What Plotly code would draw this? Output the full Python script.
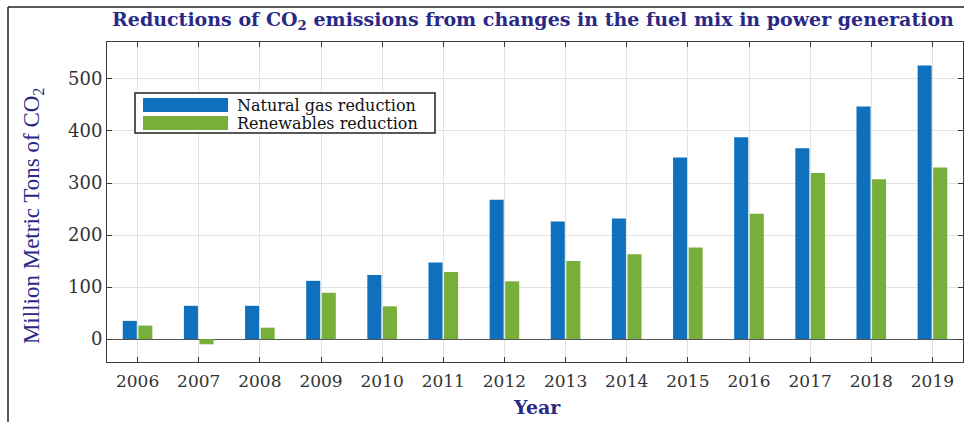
import plotly.graph_objects as go

years = ["2006", "2007", "2008", "2009", "2010", "2011", "2012",
         "2013", "2014", "2015", "2016", "2017", "2018", "2019"]
natural_gas = [35, 64, 64, 112, 123, 147, 268, 226, 232, 349, 388, 367, 447, 526]
renewables = [26, -10, 22, 89, 63, 129, 111, 150, 163, 176, 241, 319, 307, 330]
series_names = ["Natural gas reduction", "Renewables reduction"]
y_ticks = [0, 100, 200, 300, 400, 500]

BLUE = "#0F71BE"
GREEN = "#78AF3A"
NAVY = "#2A2A86"
SERIF = "DejaVu Serif"

fig = go.Figure()
fig.add_trace(go.Bar(x=years, y=natural_gas, name=series_names[0],
                     marker=dict(color=BLUE, line=dict(width=0))))
fig.add_trace(go.Bar(x=years, y=renewables, name=series_names[1],
                     marker=dict(color=GREEN, line=dict(width=0))))

axis_common = dict(
    showline=True, linecolor="#3a3a3a", linewidth=1, mirror="ticks",
    ticks="inside", ticklen=5, tickcolor="#3a3a3a", tickwidth=1,
    showgrid=True, gridcolor="#E3E3E3", gridwidth=1,
)

fig.update_layout(
    width=964, height=422,
    margin=dict(l=107, r=1, t=42, b=60),
    paper_bgcolor="white", plot_bgcolor="white",
    barmode="group", bargap=0.49, bargroupgap=0.1,
    showlegend=False,
    title=dict(
        text="Reductions of CO<sub>2</sub> emissions from changes in the fuel mix in power generation",
        x=533 / 964, xanchor="center", xref="container",
        y=(422 - 19) / 422, yanchor="middle", yref="container",
        font=dict(family=SERIF, size=19, color=NAVY, weight="bold"),
    ),
    xaxis=dict(type="category", range=[-0.5, 13.5], categoryorder="array",
               categoryarray=years, ticklabelstandoff=4,
               tickfont=dict(family=SERIF, size=17, color="#333333"),
               **axis_common),
    yaxis=dict(range=[-44, 571], tickvals=y_ticks, zeroline=True,
               zerolinecolor="#555555", zerolinewidth=1,
               tickfont=dict(family=SERIF, size=18, color="#333333"),
               **axis_common),
)

# axis titles
fig.add_annotation(text="Million Metric Tons of CO<sub>2</sub>", textangle=-90,
                   xref="paper", yref="paper", x=(33 - 107) / 856, y=0.456,
                   xanchor="center", yanchor="middle", showarrow=False,
                   font=dict(family="Liberation Serif", size=23, color=NAVY))
fig.add_annotation(text="<b>Year</b>", xref="paper", yref="paper",
                   x=(537 - 107) / 856, y=(362 - 407) / 320,
                   xanchor="center", yanchor="middle", showarrow=False,
                   font=dict(family=SERIF, size=19, color=NAVY))

# legend box (MATLAB-style wide swatches)
fig.add_shape(type="rect", xref="paper", yref="paper",
              x0=(135 - 107) / 856, x1=(435 - 107) / 856,
              y0=(362 - 133) / 320, y1=(362 - 93) / 320,
              line=dict(color="#222222", width=1.5), fillcolor="white", layer="above")
swatch_colors = [BLUE, GREEN]
swatch_rows = [(98, 112, 105), (116, 130, 123)]
for name, col, (top, bot, mid) in zip(series_names, swatch_colors, swatch_rows):
    fig.add_shape(type="rect", xref="paper", yref="paper",
                  x0=(143 - 107) / 856, x1=(228 - 107) / 856,
                  y0=(362 - bot) / 320, y1=(362 - top) / 320,
                  line=dict(width=0), fillcolor=col, layer="above")
    fig.add_annotation(text=name, xref="paper", yref="paper",
                       x=(235 - 107) / 856, y=(362 - mid) / 320,
                       xanchor="left", yanchor="middle", showarrow=False,
                       font=dict(family=SERIF, size=16, color="#111111"))

# outer image frame (left and top edges)
fig.add_shape(type="line", xref="paper", yref="paper",
              x0=(8 - 107) / 856, x1=(8 - 107) / 856,
              y0=(362 - 430) / 320, y1=(362 - 7) / 320,
              line=dict(color="#222222", width=1.5))
fig.add_shape(type="line", xref="paper", yref="paper",
              x0=(8 - 107) / 856, x1=(964 - 107) / 856,
              y0=(362 - 7) / 320, y1=(362 - 7) / 320,
              line=dict(color="#222222", width=1.5))

fig.write_html(
    "out.html",
    config={"displayModeBar": False},
    post_script="document.body.style.margin='0';document.body.style.overflow='hidden';",
)
